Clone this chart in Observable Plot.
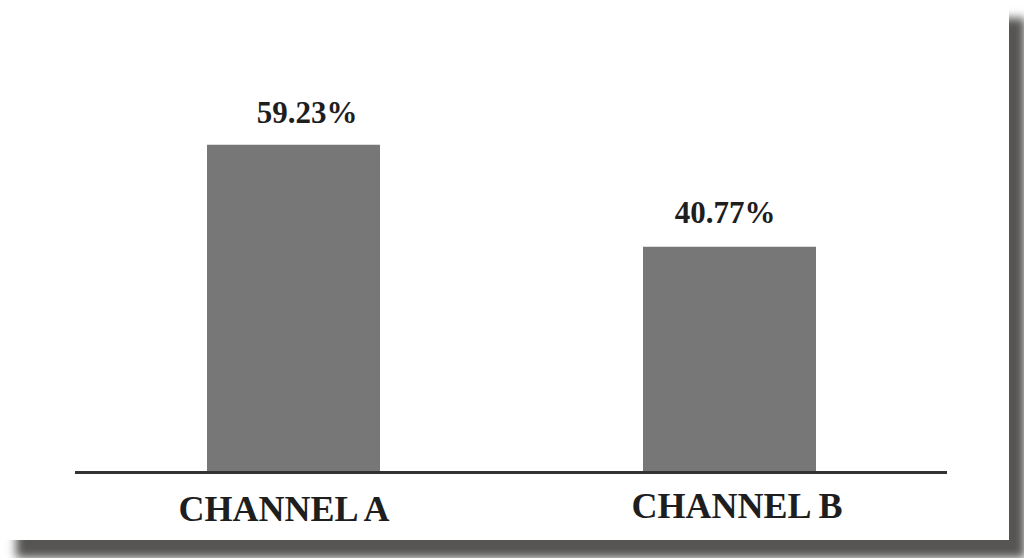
<!DOCTYPE html>
<html>
<head>
<meta charset="utf-8">
<script src="https://cdn.jsdelivr.net/npm/d3@7"></script>
<script src="https://cdn.jsdelivr.net/npm/@observablehq/plot@0.6"></script>
<style>
  html, body { margin: 0; padding: 0; background: #ffffff; width: 1024px; height: 558px; overflow: hidden; }
  #panel { position: absolute; left: 0; top: 0; width: 1009px; height: 540px; background: #ffffff;
           box-shadow: 16px 18px 9px #565554; }
  #panel svg { display: block; }
</style>
</head>
<body>
<div id="panel"></div>
<script>
const channels = ["CHANNEL A", "CHANNEL B"];
const shares = [59.23, 40.77];
const shareLabels = ["59.23%", "40.77%"];

const data = channels.map((c, i) => ({channel: c, share: shares[i], label: shareLabels[i]}));

const valueText = (rows, dx, dy) => Plot.text(rows, {x: "channel", y: "share", text: "label",
  lineAnchor: "bottom", dx, dy, fontSize: 31, fontWeight: "bold", fill: "#1e1e1e"});
const axisText = (rows, dx, dy) => Plot.text(rows, {x: "channel", text: "channel", frameAnchor: "bottom",
  lineAnchor: "bottom", dx, dy, fontSize: 36, fontWeight: "bold", fill: "#1e1e1e"});

const chart = Plot.plot({
  width: 1009,
  height: 540,
  marginLeft: 75,
  marginRight: 62,
  marginTop: 30,
  marginBottom: 68,
  style: {background: "transparent", fontFamily: "'Liberation Serif', 'Times New Roman', serif"},
  x: {domain: channels, paddingInner: 0.604, paddingOuter: 0.3, axis: null},
  y: {domain: [0, 80], axis: null},
  marks: [
    Plot.barY(data, {x: "channel", y: "share", fill: "#777777"}),
    Plot.ruleY([0], {stroke: "#333333", strokeWidth: 3}),
    valueText([data[0]], 13, -22),
    valueText([data[1]], -5, -24),
    axisText([data[0]], -10, 48),
    axisText([data[1]], 7, 45)
  ]
});
document.getElementById("panel").appendChild(chart);
</script>
</body>
</html>
